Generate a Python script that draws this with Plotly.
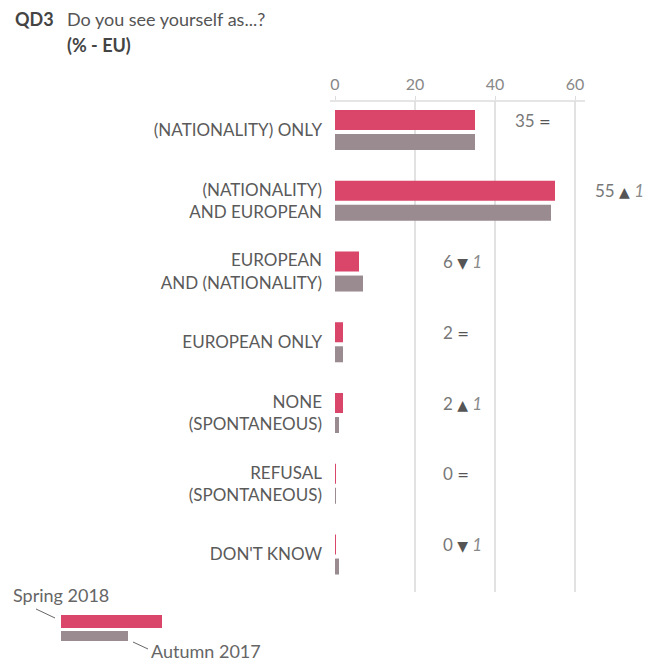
import plotly.graph_objects as go

categories = ["(NATIONALITY) ONLY", "(NATIONALITY)<br>AND EUROPEAN", "EUROPEAN<br>AND (NATIONALITY)",
              "EUROPEAN ONLY", "NONE<br>(SPONTANEOUS)", "REFUSAL<br>(SPONTANEOUS)", "DON'T KNOW"]
spring_2018 = [35, 55, 6, 2, 2, 0.25, 0.25]
autumn_2017 = [35, 54, 7, 2, 1, 0.2, 1]
label_values = [35, 55, 6, 2, 2, 0, 0]
change_sign = ["=", "up", "down", "=", "up", "=", "down"]
change_value = ["", "1", "1", "", "1", "", "1"]
x_ticks = [0, 20, 40, 60]

PINK = "#d9466a"
GREY = "#998b8f"
FONT = "Lato, sans-serif"

W, H = 645, 663
L, T = 335, 101
R = 0
B = H - 592
PW, PH = W - L - R, H - T - B

def px(x):
    return (x - L) / PW

def py(y):
    return (H - B - y) / PH

idx = list(range(len(categories)))
fig = go.Figure()
fig.add_trace(go.Bar(y=idx, x=spring_2018, orientation="h", marker=dict(color=PINK, line=dict(width=0)),
                     width=0.283, offset=-0.283, name="Spring 2018", showlegend=False, hoverinfo="skip"))
fig.add_trace(go.Bar(y=idx, x=autumn_2017, orientation="h", marker=dict(color=GREY, line=dict(width=0)),
                     width=0.226, offset=0.057, name="Autumn 2017", showlegend=False, hoverinfo="skip"))

annotations = []
SYM_STYLE = "font-family:DejaVu Sans;font-size:14px;color:#555"
sym = {"=": f"<span style='{SYM_STYLE};color:#6a6a6a'>=</span>",
       "up": f"<span style='{SYM_STYLE}'>▲</span>",
       "down": f"<span style='{SYM_STYLE}'>▼</span>"}
for i, (v, s, c) in enumerate(zip(label_values, change_sign, change_value)):
    t = f"{v} {sym[s]}"
    if c:
        t += f" <span style='color:#8a8a8a'><i>{c}</i></span>"
    xpos = max(spring_2018[i] + 9.75, 26.75)
    annotations.append(dict(x=xpos, y=i - 0.14, xref="x", yref="y", text=t, showarrow=False,
                            xanchor="left", yanchor="middle", borderpad=0,
                            font=dict(family=FONT, size=17, color="#777")))

def txt(x, y, t, size, color, bold=False):
    return dict(x=px(x), y=py(y), xref="paper", yref="paper", xanchor="left", yanchor="middle",
                showarrow=False, text=f"<b>{t}</b>" if bold else t,
                font=dict(family=FONT, size=size, color=color))

annotations += [
    txt(13, 19, "QD3", 18, "#444", True),
    txt(65, 19, "Do you see yourself as...?", 18, "#555"),
    txt(65, 45, "(% - EU)", 18, "#444", True),
    txt(11, 595, "Spring 2018", 18, "#666"),
    txt(149, 651, "Autumn 2017", 18, "#666"),
]

shapes = [
    dict(type="line", xref="paper", yref="paper", x0=px(330), x1=px(585), y0=1, y1=1,
         line=dict(color="#dddddd", width=1.5)),
    dict(type="rect", xref="paper", yref="paper", x0=px(61), x1=px(162), y0=py(615), y1=py(628),
         fillcolor=PINK, line=dict(width=0)),
    dict(type="rect", xref="paper", yref="paper", x0=px(61), x1=px(128), y0=py(631), y1=py(641),
         fillcolor=GREY, line=dict(width=0)),
    dict(type="line", xref="paper", yref="paper", x0=px(36), x1=px(55), y0=py(609), y1=py(618),
         line=dict(color="#666", width=1)),
    dict(type="line", xref="paper", yref="paper", x0=px(133), x1=px(148), y0=py(642), y1=py(649),
         line=dict(color="#666", width=1)),
]

fig.update_layout(
    width=W, height=H, margin=dict(l=L, r=R, t=T, b=B),
    paper_bgcolor="white", plot_bgcolor="white",
    barmode="overlay", hovermode=False,
    annotations=annotations, shapes=shapes,
    xaxis=dict(side="top", range=[0, PW / 4], tickvals=x_ticks, ticks="outside", ticklen=4,
               tickcolor="#dddddd", showgrid=True, gridcolor="#e2e2e2", gridwidth=1.5, zeroline=False,
               tickfont=dict(family=FONT, size=16, color="#888"), fixedrange=True),
    yaxis=dict(range=[6.53, -0.41], tickvals=idx, ticktext=categories, ticks="", showgrid=False,
               zeroline=False, ticklabelstandoff=12, fixedrange=True,
               tickfont=dict(family=FONT, size=17, color="#5a5a5a")),
    font=dict(family=FONT),
)

fig.write_html("out.html", config={"displayModeBar": False},
               post_script="document.body.style.margin='0';document.body.style.overflow='hidden';")
